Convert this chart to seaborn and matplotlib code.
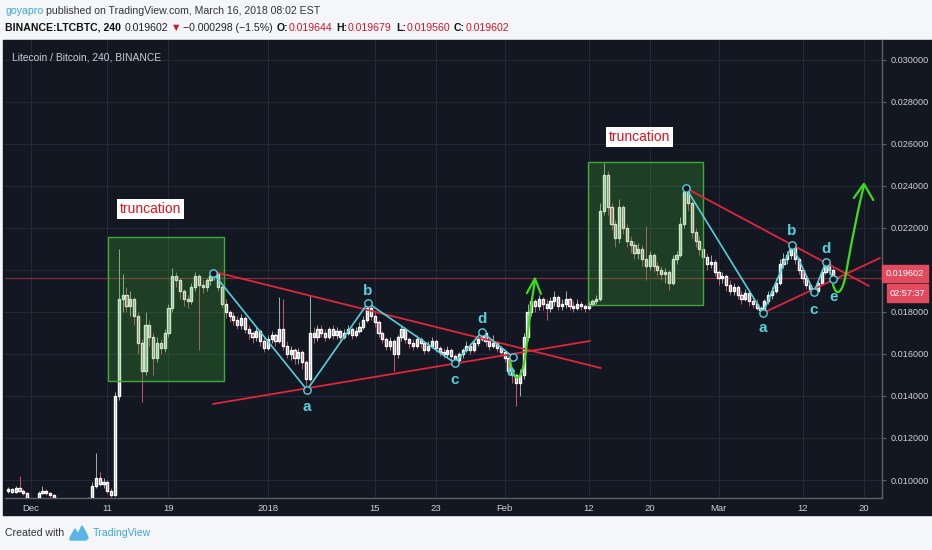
import numpy as np
import pandas as pd
import matplotlib
matplotlib.use("Agg")
import matplotlib.pyplot as plt
import seaborn as sns
from matplotlib.patches import Rectangle, PathPatch
from matplotlib.path import Path
from matplotlib import font_manager

# LTC/BTC, 12h candles from 2017-11-28, prices in units of 0.0001 BTC
closes = [95.5, 94.5, 96, 95, 94, 91, 90, 90.5, 94, 95, 94, 93, 91, 89, 88, 86, 84, 82, 80, 79,
          83, 90, 97, 101, 98, 99, 95, 93, 140, 186, 188, 183, 186, 178, 165, 152, 174, 168, 158, 165,
          163, 170, 182, 197, 195, 190, 186, 185, 192, 197, 193, 192, 195, 197, 198.5, 192, 184, 180, 178, 176,
          174, 177, 172, 170, 168, 171, 166, 163, 167, 169, 166, 172, 164, 160, 162, 158, 161, 156, 148, 170,
          168, 172, 170, 168, 172, 169, 171, 168, 170, 172, 169, 171, 173, 176, 182, 178, 175, 170, 167, 164,
          166, 160, 168, 172, 167, 165, 164, 167, 165, 162, 164, 166, 163, 161, 160, 162, 159, 157, 160, 162,
          164, 162, 165, 167, 170, 166, 164, 165, 163, 161, 158, 152, 150, 146, 150, 168, 180, 185, 183, 186,
          184, 182, 185, 187, 183, 184, 186, 183, 182, 184, 183, 182, 184, 185, 186, 228, 245, 230, 222, 215,
          230, 220, 214, 212, 208, 210, 205, 202, 207, 202, 200, 198, 199, 194, 205, 207, 222, 237, 232, 218,
          214, 210, 206, 203, 204, 199, 196, 197, 193, 190, 192, 188, 186, 189, 185, 184, 182, 181, 185, 188,
          190, 194, 203, 205, 207, 211, 205, 200, 196, 193, 191, 190, 194, 199, 203, 200, 196.44, 196.02]
highs = [96.5, 96, 97, 102, 95.5, 94.5, 91.5, 91, 95, 97, 95.5, 94.5, 93.5, 91.5, 89.5, 88.5, 86.5, 84.5, 82.5, 80.5,
         84, 92, 99, 113, 104, 101, 100, 96, 142, 210, 198, 192, 190, 187, 180, 167, 180, 176, 170, 168,
         167, 172, 184, 201, 199, 196, 191, 188, 194, 199, 198, 195, 196, 198, 199.5, 199, 193, 186, 181, 180,
         178, 179, 178, 174, 171, 173, 172, 168, 169, 171, 170, 187, 186, 166, 164, 163, 163, 162, 157, 188,
         173, 174, 174, 172, 173, 174, 173, 172, 172, 174, 173, 173, 175, 178, 184.5, 184, 180, 176, 171, 168,
         168, 167, 169, 174, 173, 168, 167, 169, 168, 166, 166, 168, 167, 164, 163, 164, 163, 160, 161, 163,
         166, 165, 166, 169, 171, 171, 167, 169, 166, 164, 162, 159, 154, 151, 153, 170, 184, 187, 186, 188,
         187, 186, 187, 190, 188, 186, 190, 187, 185, 186, 185, 184, 185, 186, 188, 232, 251, 247, 232, 224,
         234, 231, 222, 216, 214, 213, 212, 221, 209, 208, 204, 202, 201, 200, 207, 209, 225, 239.5, 238, 233,
         220, 216, 212, 208, 207, 205, 200, 199, 198, 195, 194, 193, 190, 191, 190, 187, 186, 183, 186, 190,
         192, 196, 205, 208, 209, 212.5, 212, 206, 201, 197, 194, 192, 195, 200, 204.5, 204, 201, 196.79]
lows = [94, 94, 94, 94.5, 93, 90, 89, 89, 90, 93.5, 93, 92, 90, 88, 87, 85, 83, 81, 79, 78,
        78.5, 82, 89, 96, 97, 96, 94, 92, 92.5, 138, 180, 180, 178, 174, 160, 137, 150, 164, 150, 156,
        160, 161, 168, 180, 192, 186, 183, 182, 184, 190, 162, 189, 190, 193, 195, 190, 182, 177, 175, 174,
        172, 172, 170, 167, 165, 166, 164, 161, 162, 165, 164, 165, 162, 158, 157, 155, 155, 153, 143, 147,
        165, 166, 168, 166, 167, 167, 167, 166, 167, 169, 167, 168, 170, 172, 175, 176, 173, 168, 165, 162,
        162, 152, 158, 166, 165, 163, 162, 163, 163, 160, 161, 163, 161, 159, 158, 158, 157, 155.5, 156, 158,
        161, 160, 161, 164, 166, 164, 162, 163, 161, 159, 156, 150, 146, 135, 140, 148, 166, 178, 180, 181,
        181, 176, 180, 183, 181, 181, 182, 181, 180, 181, 181, 180, 181, 183, 184, 185, 226, 226, 219, 211,
        213, 217, 211, 208, 205, 205, 202, 195, 200, 199, 197, 195, 194, 190.5, 193, 203, 206, 220, 228, 215,
        211, 207, 203, 200, 201, 197, 193, 194, 190, 188, 188, 186, 184, 185, 183, 182, 181, 179.5, 180, 184,
        186, 189, 193, 201, 203, 205, 203, 198, 194, 191, 189.5, 189, 189.5, 193, 198, 198, 195.5, 195.60]
first_open = 95

# time axis (days after 2017-12-01)
tick_days = [0, 10, 18, 31, 45, 53, 62, 73, 81, 90, 101, 109]
tick_names = ["Dec", "11", "19", "2018", "15", "23", "Feb", "12", "20", "Mar", "12", "20"]
price_ticks = [0.010, 0.012, 0.014, 0.016, 0.018, 0.020, 0.022, 0.024, 0.026, 0.028, 0.030]

# drawings on the chart (days, price units 1e-4)
wave1_day = [23.82, 36.13, 44.11, 55.50, 59.03, 63.09]
wave1_price = [198.6, 142.9, 184.3, 155.7, 170.5, 158.6]
wave2_day = [85.73, 95.81, 99.61, 102.49, 104.06, 104.97]
wave2_price = [239.0, 179.5, 211.9, 189.5, 203.8, 195.7]
wave_letters = ["a", "b", "c", "d", "e"]
wave1_label_day = [36.1, 44.1, 55.5, 59.0, 62.8]
wave1_label_price = [134.8, 190.0, 147.6, 176.7, 151.4]
wave2_label_day = [95.8, 99.6, 102.5, 104.1, 105.1]
wave2_label_price = [172.4, 218.6, 181.0, 210.0, 187.1]
red_lines = [((24.08, 199.05), (74.61, 153.3)), ((23.82, 136.2), (73.17, 166.2)),
             ((85.73, 239.0), (109.69, 192.4)), ((95.81, 179.5), (111.13, 205.7))]
boxes = [(10.07, 25.26, 147.1, 215.7), (72.9, 87.96, 183.3, 251.4)]
trunc_pos = [(15.7, 229.0), (79.6, 263.3)]
curve1 = [(62.70, 157.1), (63.22, 144.8), (64.40, 144.8), (64.92, 165.7), (65.31, 178.6), (65.58, 186.7), (65.97, 194.8)]
head1 = [(64.92, 189.0), (65.97, 195.9), (66.75, 188.6)]
curve2 = [(104.97, 193.3), (105.37, 187.1), (106.28, 187.6), (106.81, 201.0), (107.59, 216.7), (108.38, 231.0), (109.03, 240.0)]
head2 = [(107.72, 234.3), (109.03, 241.0), (110.26, 233.3)]
last_price = 0.019602

U = 1e-4
df = pd.DataFrame({"t": pd.date_range("2017-11-28", periods=len(closes), freq="12h"),
                   "close": np.array(closes) * U, "high": np.array(highs) * U, "low": np.array(lows) * U})
df["open"] = df["close"].shift(1).fillna(first_open * U)
df["day"] = (df["t"] - pd.Timestamp("2017-12-01")) / pd.Timedelta(days=1)
df["up"] = df["close"] >= df["open"]

sns.set_style("dark")
names = {f.name for f in font_manager.fontManager.ttflist}
narrow = "Liberation Sans Narrow" if "Liberation Sans Narrow" in names else "Liberation Sans"
plt.rcParams["font.family"] = [narrow, "DejaVu Sans"]

W, H = 932, 550
def fx(x):
    return x / W
def fy(y):
    return 1 - y / H

BG = "#131722"
CYAN = "#55d0da"
RED = "#e0263d"
LIME = "#3fdc1e"
up_c, dn_c = "#94b6a6", "#c9546f"

fig = plt.figure(figsize=(W / 100, H / 100), dpi=100, facecolor="#f4f6f9")
fig.add_artist(Rectangle((fx(3), fy(515)), fx(932) - fx(3), fy(40) - fy(515), transform=fig.transFigure,
                         color=BG, zorder=0))
ax = fig.add_axes([fx(5), fy(498), fx(882) - fx(5), fy(40) - fy(498)])
ax.set_facecolor(BG)

# candles
cols = np.where(df["up"], up_c, dn_c)
ax.vlines(df["day"], df["low"], df["high"], colors=cols, lw=0.7, zorder=3)
body = (df["close"] - df["open"]).abs().clip(lower=0.00003)
ax.bar(df["day"], body, bottom=np.minimum(df["open"], df["close"]), width=0.28, color=cols, zorder=3)

ax.axhline(last_price, color="#80303f", lw=0.9, zorder=2)

for x0, x1, y0, y1 in boxes:
    ax.add_patch(Rectangle((x0, y0 * U), x1 - x0, (y1 - y0) * U, facecolor=(0.25, 0.65, 0.2, 0.28),
                           edgecolor="#3daa3a", lw=1.0, zorder=4))
for (x, y) in trunc_pos:
    ax.text(x, y * U, "truncation", color="#e3121c", fontsize=10, ha="center", va="center", zorder=8,
            bbox=dict(boxstyle="square,pad=0.2", fc="white", ec="none"))

for (a, b) in red_lines:
    ax.plot([a[0], b[0]], [a[1] * U, b[1] * U], color=RED, lw=1.3, zorder=5)

for wd, wp, ld, lp in [(wave1_day, wave1_price, wave1_label_day, wave1_label_price),
                       (wave2_day, wave2_price, wave2_label_day, wave2_label_price)]:
    sns.lineplot(x=wd, y=np.array(wp) * U, sort=False, estimator=None, color=CYAN, lw=1.2, ax=ax, zorder=6)
    sns.scatterplot(x=wd, y=np.array(wp) * U, s=28, color=BG, edgecolor=CYAN, linewidth=1.0, ax=ax, zorder=7)
    for lab, x, y in zip(wave_letters, ld, lp):
        ax.text(x, y * U, lab, color=CYAN, fontsize=11, fontweight="bold", ha="center", va="center", zorder=8)

for curve, head in [(curve1, head1), (curve2, head2)]:
    verts = [(x, y * U) for x, y in curve]
    codes = [Path.MOVETO] + [Path.CURVE4] * 6
    ax.add_patch(PathPatch(Path(verts, codes), fc="none", ec=LIME, lw=1.6, zorder=7))
    ax.plot([p[0] for p in head], [p[1] * U for p in head], color=LIME, lw=1.6, zorder=7)

ax.set_xlim(-3.4, 111.4)
ax.set_ylim(0.009143, 0.03095)
ax.set_xticks(tick_days)
ax.set_xticklabels(tick_names)
ax.set_yticks(price_ticks)
ax.set_yticklabels([f"{v:.6f}" for v in price_ticks])
ax.yaxis.tick_right()
ax.grid(True, color="#232836", lw=0.8, zorder=0)
ax.set_axisbelow(True)
ax.tick_params(axis="both", colors="#5d606b", labelcolor="#cdd0d8", length=3, width=0.8)
ax.tick_params(axis="y", pad=3, labelsize=6.6)
ax.tick_params(axis="x", pad=1.5, labelsize=6.8)
for s in ["top", "left"]:
    ax.spines[s].set_visible(False)
for s in ["right", "bottom"]:
    ax.spines[s].set_color("#5d606b")
    ax.spines[s].set_linewidth(1)

ax.text(0.008, 0.962, "Litecoin / Bitcoin, 240, BINANCE", transform=ax.transAxes, color="#c9ccd4",
        fontsize=7.4, ha="left", va="center")

# price / countdown labels on the right scale
fig.add_artist(Rectangle((fx(882), fy(282)), fx(46), fy(0) - fy(17), transform=fig.transFigure,
                         color="#e34a5e", zorder=10))
fig.add_artist(Rectangle((fx(887), fy(302)), fx(41), fy(0) - fy(18), transform=fig.transFigure,
                         color="#e34a5e", zorder=10))
fig.text(fx(905), fy(273.5), "0.019602", color="white", fontsize=6.6, ha="center", va="center", zorder=11)
fig.text(fx(907.5), fy(293), "02:57:37", color="white", fontsize=6.6, ha="center", va="center", zorder=11)

# header and footer texts, laid out left to right
renderer = fig.canvas.get_renderer()
def text_row(items, x, y, size):
    for s, c, w, gap in items:
        t = fig.text(fx(x), fy(y), s, color=c, fontsize=size, fontweight=w, ha="left", va="center")
        x += t.get_window_extent(renderer).width + gap

text_row([("goyapro", "#3ea6dc", "normal", 3),
          ("published on TradingView.com, March 16, 2018 08:02 EST", "#333333", "normal", 0)], 5, 11, 7.6)
text_row([("BINANCE:LTCBTC, 240", "#111111", "bold", 4), ("0.019602", "#222222", "normal", 2),
          ("\u25bc", "#c81d25", "normal", 2), ("\u22120.000298 (\u22121.5%)", "#222222", "normal", 4),
          ("O:", "#111111", "bold", 0.5), ("0.019644", "#d0182a", "normal", 4),
          ("H:", "#111111", "bold", 0.5), ("0.019679", "#d0182a", "normal", 4),
          ("L:", "#111111", "bold", 0.5), ("0.019560", "#d0182a", "normal", 4),
          ("C:", "#111111", "bold", 0.5), ("0.019602", "#d0182a", "normal", 0)], 5, 28, 7.6)

fig.text(fx(5), fy(533), "Created with", color="#333333", fontsize=7.6, ha="left", va="center")
logo_x = [70, 75, 78, 82, 86, 88, 86, 70]
logo_y = [538, 529, 534, 526, 533, 538, 540, 540]
fig.add_artist(plt.Polygon([(fx(a), fy(b)) for a, b in zip(logo_x, logo_y)], closed=True,
                           transform=fig.transFigure, color="#5ab4e6"))
fig.text(fx(93), fy(533), "TradingView", color="#3ea6dc", fontsize=7.6, ha="left", va="center")

fig.savefig("out.png", dpi=100, facecolor=fig.get_facecolor())
